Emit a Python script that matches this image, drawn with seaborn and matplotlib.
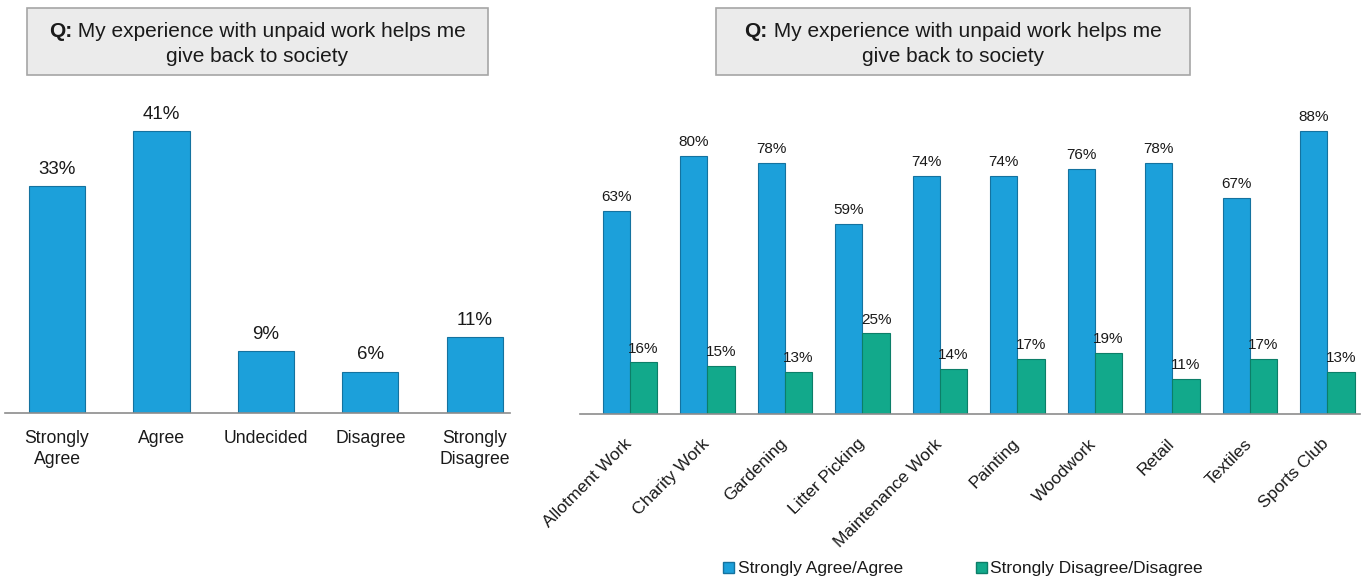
import matplotlib
matplotlib.use("Agg")
import matplotlib.pyplot as plt
from matplotlib.patches import Rectangle, Patch
from matplotlib.transforms import ScaledTranslation
import seaborn as sns
import pandas as pd

# ---- data ----
left_categories = ["Strongly\nAgree", "Agree", "Undecided", "Disagree", "Strongly\nDisagree"]
left_values = [33, 41, 9, 6, 11]

activities = ["Allotment Work", "Charity Work", "Gardening", "Litter Picking",
              "Maintenance Work", "Painting", "Woodwork", "Retail", "Textiles",
              "Sports Club"]
agree_values = [63, 80, 78, 59, 74, 74, 76, 78, 67, 88]
disagree_values = [16, 15, 13, 25, 14, 17, 19, 11, 17, 13]
series_names = ["Strongly Agree/Agree", "Strongly Disagree/Disagree"]

question_line1_bold = "Q:"
question_line1 = " My experience with unpaid work helps me"
question_line2 = "give back to society"

# ---- style ----
sns.set_theme(style="white")
plt.rcParams["font.family"] = ["Liberation Sans", "DejaVu Sans"]

BLUE = "#1ca0da"
GREEN = "#12a98b"
BLUE_EDGE = "#14729f"
GREEN_EDGE = "#0c7e68"
AXIS_GREY = "#8c8c8c"
TEXT = "#1a1a1a"

W, H = 1371, 581
fig = plt.figure(figsize=(W / 100, H / 100), dpi=100)
fig.patch.set_facecolor("white")


def px_axes(x0, x1, y_base, y_top):
    return fig.add_axes([x0 / W, 1 - y_base / H, (x1 - x0) / W, (y_base - y_top) / H])


def style_axis(ax):
    for side in ["top", "right", "left"]:
        ax.spines[side].set_visible(False)
    ax.spines["bottom"].set_color(AXIS_GREY)
    ax.spines["bottom"].set_linewidth(1.2)
    ax.set_yticks([])
    ax.set_xlabel("")
    ax.set_ylabel("")
    ax.tick_params(axis="x", length=0, colors=TEXT)
    ax.set_facecolor("none")


# ---- left chart: overall responses ----
ax1 = px_axes(5, 510, 413, 103.4)
left_df = pd.DataFrame({"response": left_categories, "value": left_values})
sns.barplot(data=left_df, x="response", y="value", color=BLUE, width=0.536,
            saturation=1, edgecolor=BLUE_EDGE, linewidth=0.8, ax=ax1)
ax1.set_ylim(0, 45)
ax1.set_xlim(-0.4976, 4.335)
style_axis(ax1)
ax1.tick_params(axis="x", pad=12.5, labelsize=12.7)
for lab in ax1.get_xticklabels():
    lab.set_multialignment("center")
    lab.set_linespacing(1.3)
for cont in ax1.containers:
    ax1.bar_label(cont, labels=[f"{v}%" for v in left_values], padding=6,
                  fontsize=13.5, color=TEXT)

# ---- right chart: by activity ----
ax2 = px_axes(580, 1360, 414, 108)
right_df = pd.DataFrame({
    "activity": activities * 2,
    "response": [series_names[0]] * len(activities) + [series_names[1]] * len(activities),
    "value": agree_values + disagree_values,
})
sns.barplot(data=right_df, x="activity", y="value", hue="response",
            palette=[BLUE, GREEN], width=0.7, saturation=1, legend=False, ax=ax2)
ax2.set_ylim(0, 95)
ax2.set_xlim(-0.645, 9.42)
style_axis(ax2)
for cont, vals, edge in zip(ax2.containers, [agree_values, disagree_values],
                            [BLUE_EDGE, GREEN_EDGE]):
    for bar in cont:
        bar.set_edgecolor(edge)
        bar.set_linewidth(0.8)
    ax2.bar_label(cont, labels=[f"{v}%" for v in vals], padding=5,
                  fontsize=11, color=TEXT)
ax2.tick_params(axis="x", pad=16, labelsize=12.6)
shift_left = ScaledTranslation(-6 / 100, 0, fig.dpi_scale_trans)
for lab in ax2.get_xticklabels():
    lab.set_rotation(45)
    lab.set_ha("right")
    lab.set_rotation_mode("anchor")
    lab.set_transform(lab.get_transform() + shift_left)

fig.legend(handles=[Patch(facecolor=BLUE, edgecolor=BLUE_EDGE),
                    Patch(facecolor=GREEN, edgecolor=GREEN_EDGE)],
           labels=series_names, loc="center", ncol=2,
           bbox_to_anchor=(963 / W, 1 - 569 / H), frameon=False,
           fontsize=12.5, handlelength=0.65, handleheight=0.65,
           handletextpad=0.2, columnspacing=4.2, labelcolor=TEXT)


# ---- question boxes ----
def question_box(x0, x1, y0=8, y1=75):
    fig.patches.append(Rectangle((x0 / W, 1 - y1 / H), (x1 - x0) / W, (y1 - y0) / H,
                                 transform=fig.transFigure, facecolor="#ebebeb",
                                 edgecolor="#a6a6a6", linewidth=1.2, zorder=0))
    cx = (x0 + x1) / 2
    renderer = fig.canvas.get_renderer()
    tb = fig.text(0, 0, question_line1_bold, fontsize=15, fontweight="bold",
                  color=TEXT, va="baseline", ha="left")
    tr = fig.text(0, 0, question_line1, fontsize=15, color=TEXT,
                  va="baseline", ha="left")
    wb = tb.get_window_extent(renderer).width
    wr = tr.get_window_extent(renderer).width
    start = cx - (wb + wr) / 2
    base1 = 1 - 37 / H
    tb.set_position((start / W, base1))
    tr.set_position(((start + wb) / W, base1))
    fig.text(cx / W, 1 - 62 / H, question_line2, fontsize=15, color=TEXT,
             va="baseline", ha="center")


question_box(27, 488)
question_box(716, 1190)

fig.savefig("out.png", dpi=100, facecolor="white")
